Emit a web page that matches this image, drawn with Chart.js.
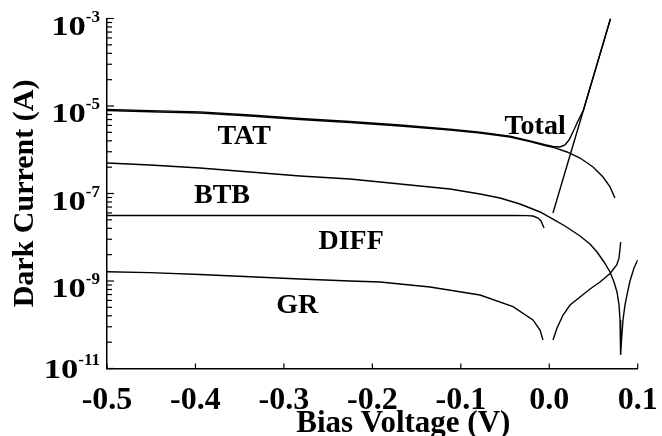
<!DOCTYPE html>
<html><head><meta charset="utf-8">
<script src="https://cdn.jsdelivr.net/npm/chart.js@4.4.0/dist/chart.umd.min.js"></script>
<style>html,body{margin:0;padding:0;background:#fff;}#wrap{width:662px;height:436px;}</style>
</head><body><div id="wrap"><canvas id="c" width="662" height="436"></canvas></div>
<script>
const FONT = "'Liberation Serif','Times New Roman',Times,serif";

// axis ticks / labels
const xTickValues = [-0.5, -0.4, -0.3, -0.2, -0.1, 0.0, 0.1];
const xTickLabels = ['-0.5', '-0.4', '-0.3', '-0.2', '-0.1', '0.0', '0.1'];
const yMajorValues = [1e-3, 1e-5, 1e-7, 1e-9, 1e-11];
const yTickBase = ['10', '10', '10', '10', '10'];
const yTickExp = ['-3', '-5', '-7', '-9', '-11'];
const xTitle = 'Bias Voltage (V)';
const yTitle = 'Dark Current (A)';

// series: bias voltage (V) and dark current (A)
const vTotal = [-0.5,-0.4514,-0.3949,-0.3383,-0.2818,-0.2253,-0.1687,-0.1122,-0.0783,-0.0444,-0.0218,-0.0048,0.0042,0.0121,0.0178,0.0223,0.0268,0.0314,0.0387,0.0693];
const iTotal = [8.32e-6,7.85e-6,7.33e-6,6.24e-6,5.19e-6,4.42e-6,3.67e-6,2.95e-6,2.51e-6,2.04e-6,1.585e-6,1.30e-6,1.19e-6,1.16e-6,1.285e-6,1.67e-6,2.55e-6,4.08e-6,8.11e-6,1.0e-3];

const vTAT = [-0.5,-0.4514,-0.3949,-0.3383,-0.2818,-0.2253,-0.1687,-0.1122,-0.0783,-0.0444,-0.0218,-0.0048,0.0065,0.0201,0.0348,0.0495,0.0608,0.0687,0.0743];
const iTAT = [7.89e-6,7.41e-6,6.92e-6,5.90e-6,4.91e-6,4.20e-6,3.49e-6,2.82e-6,2.42e-6,1.95e-6,1.53e-6,1.25e-6,1.10e-6,8.89e-7,6.47e-7,4.04e-7,2.38e-7,1.41e-7,7.89e-8];

const vBTB = [-0.5,-0.4514,-0.3949,-0.3383,-0.2818,-0.2253,-0.1913,-0.1461,-0.1122,-0.0783,-0.0557,-0.0331,-0.0104,0.0042,0.0178,0.0348,0.0461,0.0540,0.0619,0.0687,0.0732,0.0766,0.0789,0.0800,0.0806,0.0808,0.0817,0.0834,0.0856,0.0879,0.0913,0.0958,0.1];
const iBTB = [4.98e-7,4.48e-7,3.83e-7,3.10e-7,2.51e-7,2.14e-7,1.83e-7,1.48e-7,1.27e-7,9.75e-8,7.89e-8,5.75e-8,3.78e-8,2.61e-8,1.81e-8,1.07e-8,7.01e-9,4.60e-9,2.72e-9,1.61e-9,9.48e-10,5.61e-10,2.82e-10,1.29e-10,4.48e-11,2.04e-11,4.48e-11,1.29e-10,2.82e-10,4.79e-10,1.0e-9,1.98e-9,3.02e-9];

const vDIFF = [-0.5,-0.4,-0.3,-0.2,-0.1,-0.04,-0.025,-0.0184,-0.0127,-0.0093,-0.0059,0,0.0042,0.02,0.0387,0.0693];
const iDIFF = [3.14e-8,3.14e-8,3.14e-8,3.14e-8,3.14e-8,3.14e-8,3.12e-8,3.06e-8,2.75e-8,2.35e-8,1.63e-8,null,3.58e-8,4.30e-7,8.11e-6,1.0e-3];

const vGR = [-0.5,-0.4514,-0.3949,-0.3383,-0.2818,-0.2253,-0.1913,-0.1348,-0.0783,-0.041,-0.0184,-0.0104,-0.0071,0,0.0042,0.0088,0.0156,0.0235,0.0348,0.0461,0.0574,0.0687,0.0763,0.0789,0.0808];
const iGR = [1.63e-9,1.55e-9,1.41e-9,1.25e-9,1.11e-9,1.0e-9,9.48e-10,7.29e-10,4.79e-10,2.59e-10,1.29e-10,7.59e-11,4.48e-11,null,4.48e-11,8.43e-11,1.67e-10,2.82e-10,4.31e-10,6.56e-10,9.48e-10,1.48e-9,2.32e-9,3.36e-9,7.78e-9];

// curve labels (text, and where they sit in data coordinates)
const labelTexts = ['TAT', 'Total', 'BTB', 'DIFF', 'GR'];
const labelV = [-0.345, -0.016, -0.370, -0.224, -0.285];
const labelI = [2.17e-6, 3.68e-6, 9.75e-8, 8.65e-9, 2.98e-10];

function pts(vs, is) { return vs.map((v, k) => ({ x: v, y: is[k] })); }
function ds(name, vs, is) {
  return { label: name, data: pts(vs, is), borderColor: '#000', borderWidth: 1.4,
    pointRadius: 0, tension: 0, fill: false, spanGaps: false };
}

const decor = {
  id: 'decor',
  afterDraw(chart) {
    const ctx = chart.ctx, xs = chart.scales.x, ys = chart.scales.y, a = chart.chartArea;
    ctx.save();
    ctx.strokeStyle = '#000';
    ctx.lineWidth = 1.2;
    const line = (x1, y1, x2, y2) => { ctx.beginPath(); ctx.moveTo(x1, y1); ctx.lineTo(x2, y2); ctx.stroke(); };
    xTickValues.forEach(v => { const px = xs.getPixelForValue(v); line(px, a.bottom, px, a.bottom - 5); });
    yMajorValues.forEach((val, k) => {
      const py = ys.getPixelForValue(val);
      line(a.left, py, a.left + 7, py);
      if (k < yMajorValues.length - 1) {
        const lo = yMajorValues[k + 1];
        for (let n = 2; n <= 9; n++) {
          const pm = ys.getPixelForValue(lo * n * n);
          line(a.left, pm, a.left + 5, pm);
        }
      }
    });
    // y tick labels with superscript exponents
    ctx.fillStyle = '#000';
    ctx.textBaseline = 'alphabetic';
    ctx.textAlign = 'right';
    const right = a.left - 7;
    yMajorValues.forEach((val, k) => {
      let py = ys.getPixelForValue(val);
      if (k === yMajorValues.length - 1) py -= 7;
      ctx.font = 'bold 17px ' + FONT;
      const ew = ctx.measureText(yTickExp[k]).width;
      ctx.fillText(yTickExp[k], right, py + 3);
      ctx.font = 'bold 27px ' + FONT;
      ctx.save();
      ctx.translate(right - ew, py + 16);
      ctx.scale(1.28, 1);
      ctx.fillText(yTickBase[k], 0, 0);
      ctx.restore();
    });
    // curve labels
    ctx.textAlign = 'center';
    ctx.font = 'bold 28px ' + FONT;
    labelTexts.forEach((t, k) => {
      const px = xs.getPixelForValue(labelV[k]);
      const py = ys.getPixelForValue(labelI[k]);
      ctx.fillText(t, px, py + 9);
    });
    // x axis title
    ctx.font = 'bold 31px ' + FONT;
    ctx.fillText(xTitle, xs.getPixelForValue(-0.165), 432);
    ctx.restore();
  }
};

new Chart(document.getElementById('c'), {
  type: 'line',
  data: { datasets: [
    ds('Total', vTotal, iTotal),
    ds('TAT', vTAT, iTAT),
    ds('BTB', vBTB, iBTB),
    ds('DIFF', vDIFF, iDIFF),
    ds('GR', vGR, iGR)
  ] },
  options: {
    responsive: false, animation: false, devicePixelRatio: 1,
    layout: { padding: { top: 18.5, right: 24.3, left: 0, bottom: 0 } },
    plugins: { legend: { display: false }, tooltip: { enabled: false } },
    scales: {
      x: {
        type: 'linear', min: -0.5, max: 0.1,
        grid: { display: false, drawTicks: false },
        border: { display: true, color: '#000', width: 1.5 },
        afterBuildTicks: s => { s.ticks = xTickValues.map(v => ({ value: v })); },
        afterFit: s => { s.height = 67.5; s.paddingLeft = 0; s.paddingRight = 0; },
        ticks: { color: '#000', padding: 13, maxRotation: 0, autoSkip: false,
          font: { family: FONT, size: 32, weight: 'bold' },
          callback: (val, idx) => xTickLabels[idx] },
        title: { display: false, text: xTitle }
      },
      y: {
        type: 'logarithmic', min: 1e-11, max: 1e-3,
        grid: { display: false, drawTicks: false },
        border: { display: true, color: '#000', width: 1.5 },
        afterFit: s => { s.width = 107; },
        ticks: { display: false },
        title: { display: true, text: yTitle, color: '#000',
          font: { family: FONT, size: 30, weight: 'bold', lineHeight: 1.2 },
          padding: { top: 7, bottom: 0 } }
      }
    }
  },
  plugins: [decor]
});
</script>
</body></html>
